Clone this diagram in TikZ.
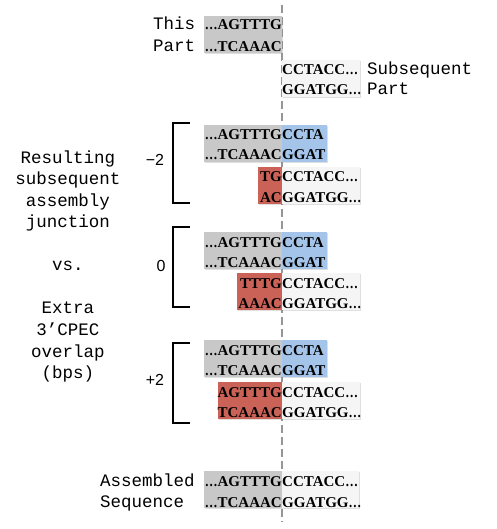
\documentclass[tikz,border=0pt]{standalone}
\usepackage{graphicx}
\usepackage{fontspec}
\setmainfont{Liberation Serif}
\newfontfamily\monof{Liberation Mono}
\newfontfamily\sansf{Liberation Sans}
\usetikzlibrary{shadows}
\definecolor{boxgrey}{RGB}{200,200,200}
\definecolor{boxblue}{RGB}{164,196,234}
\definecolor{boxred}{RGB}{202,98,88}
\definecolor{boxwhite}{RGB}{245,245,245}
\definecolor{dashgrey}{RGB}{150,150,150}
\newcommand\seqdots{\scalebox{0.85}[1]{…}}
\begin{document}
\begin{tikzpicture}[x=1pt,y=-1pt,
  seq/.style={font=\fontsize{15}{17}\selectfont\bfseries, inner sep=0pt},
  lbl/.style={font=\monof\fontsize{17.5}{20}\selectfont, inner sep=0pt},
  num/.style={font=\sansf\fontsize{16}{19}\selectfont, inner sep=0pt},
  seqbox/.style={inner sep=0pt, draw=none, anchor=north west, minimum height=37pt,
     drop shadow={opacity=0.25, shadow xshift=1.2pt, shadow yshift=-1.2pt}},
  brk/.style={line width=2pt},
  junc/.style={dashgrey, line width=1.6pt, dash pattern=on 8pt off 4pt}]
\useasboundingbox (0,0) rectangle (496,529);

% junction line
\coordinate (jtop) at (282,5);
\coordinate (jbot) at (282,522);
\draw[junc] (jtop) -- (jbot);

% This part / subsequent part
\node[seqbox, fill=boxgrey, minimum width=78pt] (tpbox) at (204,16) {};
\node[seq, anchor=base east] (tp1) at (282,29.5) {\seqdots AGTTTG};
\node[seq, anchor=base east] (tp2) at (282,51.5) {\seqdots TCAAAC};
\node[lbl, anchor=base west] (this) at (153,29.5) {This};
\node[lbl, anchor=base west] (part) at (153,51.5) {Part};

\node[seqbox, fill=boxwhite, minimum width=78pt] (spbox) at (282,60) {};
\node[seq, anchor=base west] (sp1) at (282,75) {CCTACC\seqdots};
\node[seq, anchor=base west] (sp2) at (282,95) {GGATGG\seqdots};
\node[lbl, anchor=base west] (subs) at (367,75) {Subsequent};
\node[lbl, anchor=base west] (spart) at (367,95) {Part};

% -2
\node[seqbox, fill=boxgrey, minimum width=78pt] (ag1) at (204,125) {};
\node[seqbox, fill=boxblue, minimum width=45pt] (ab1) at (282,125) {};
\node[seq, anchor=base east] (a1l) at (282,140) {\seqdots AGTTTG};
\node[seq, anchor=base west] (a1r) at (282,140) {CCTA};
\node[seq, anchor=base east] (a2l) at (282,160) {\seqdots TCAAAC};
\node[seq, anchor=base west] (a2r) at (282,160) {GGAT};
\node[seqbox, fill=boxred, minimum width=24pt] (ar1) at (258,167) {};
\node[seqbox, fill=boxwhite, minimum width=78pt] (aw1) at (282,167) {};
\node[seq, anchor=base east] (a3l) at (282,182) {TG};
\node[seq, anchor=base west] (a3r) at (282,182) {CCTACC\seqdots};
\node[seq, anchor=base east] (a4l) at (282,202) {AC};
\node[seq, anchor=base west] (a4r) at (282,202) {GGATGG\seqdots};

% 0
\node[seqbox, fill=boxgrey, minimum width=78pt] (bg1) at (204,232) {};
\node[seqbox, fill=boxblue, minimum width=45pt] (bb1) at (282,232) {};
\node[seq, anchor=base east] (b1l) at (282,247) {\seqdots AGTTTG};
\node[seq, anchor=base west] (b1r) at (282,247) {CCTA};
\node[seq, anchor=base east] (b2l) at (282,267) {\seqdots TCAAAC};
\node[seq, anchor=base west] (b2r) at (282,267) {GGAT};
\node[seqbox, fill=boxred, minimum width=45pt] (br1) at (237,273) {};
\node[seqbox, fill=boxwhite, minimum width=78pt] (bw1) at (282,273) {};
\node[seq, anchor=base east] (b3l) at (282,288) {TTTG};
\node[seq, anchor=base west] (b3r) at (282,288) {CCTACC\seqdots};
\node[seq, anchor=base east] (b4l) at (282,308) {AAAC};
\node[seq, anchor=base west] (b4r) at (282,308) {GGATGG\seqdots};

% +2
\node[seqbox, fill=boxgrey, minimum width=78pt] (cg1) at (204,340) {};
\node[seqbox, fill=boxblue, minimum width=45pt] (cb1) at (282,340) {};
\node[seq, anchor=base east] (c1l) at (282,355) {\seqdots AGTTTG};
\node[seq, anchor=base west] (c1r) at (282,355) {CCTA};
\node[seq, anchor=base east] (c2l) at (282,375) {\seqdots TCAAAC};
\node[seq, anchor=base west] (c2r) at (282,375) {GGAT};
\node[seqbox, fill=boxred, minimum width=64pt] (cr1) at (218,382) {};
\node[seqbox, fill=boxwhite, minimum width=78pt] (cw1) at (282,382) {};
\node[seq, anchor=base east] (c3l) at (282,397) {AGTTTG};
\node[seq, anchor=base west] (c3r) at (282,397) {CCTACC\seqdots};
\node[seq, anchor=base east] (c4l) at (282,417) {TCAAAC};
\node[seq, anchor=base west] (c4r) at (282,417) {GGATGG\seqdots};

% assembled
\node[seqbox, fill=boxgrey, minimum width=78pt] (dg1) at (204,471) {};
\node[seqbox, fill=boxwhite, minimum width=77pt] (dw1) at (282,471) {};
\node[seq, anchor=base east] (d1l) at (282,486) {\seqdots AGTTTG};
\node[seq, anchor=base west] (d1r) at (282,486) {CCTACC\seqdots};
\node[seq, anchor=base east] (d2l) at (282,507) {\seqdots TCAAAC};
\node[seq, anchor=base west] (d2r) at (282,507) {GGATGG\seqdots};
\node[lbl, anchor=base west] (asm) at (100,486) {Assembled};
\node[lbl, anchor=base west] (sq) at (100,507) {Sequence};

% brackets
\draw[brk] (190,123) -- (173,123) -- (173,203) -- (190,203);
\draw[brk] (190,227) -- (173,227) -- (173,307) -- (190,307);
\draw[brk] (190,343) -- (173,343) -- (173,423) -- (190,423);
\node[num] (nm2) at (155,160) {−2};
\node[num] (n0) at (161,266) {0};
\node[num] (np2) at (155,380) {+2};

% left labels
\node[lbl, anchor=base] (l1) at (68,164) {Resulting};
\node[lbl, anchor=base] (l2) at (68,185) {subsequent};
\node[lbl, anchor=base] (l3) at (68,206) {assembly};
\node[lbl, anchor=base] (l4) at (68,227) {junction};
\node[lbl, anchor=base] (l5) at (68,270) {vs.};
\node[lbl, anchor=base] (l6) at (68,313) {Extra};
\node[lbl, anchor=base] (l7) at (68,335) {3’CPEC};
\node[lbl, anchor=base] (l8) at (68,357) {overlap};
\node[lbl, anchor=base] (l9) at (68,378) {(bps)};
\end{tikzpicture}
\end{document}
